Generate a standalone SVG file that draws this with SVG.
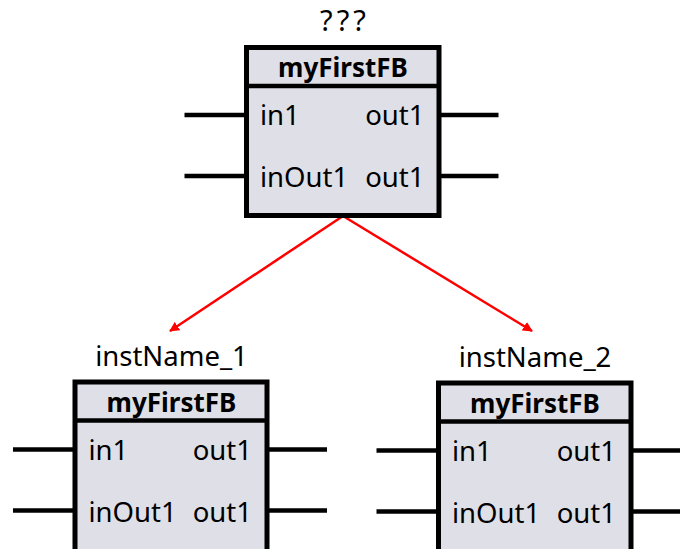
<svg xmlns="http://www.w3.org/2000/svg" width="680" height="549" viewBox="0 0 680 549">
<style>
.box{fill:#dfdfe7;stroke:#000;stroke-width:5}
.pin{stroke:#000;stroke-width:4.5;fill:none}
.div{stroke:#000;stroke-width:4.5}
.t{font-family:"Noto Sans","Open Sans",sans-serif;font-size:27.5px;fill:#000}
.q{letter-spacing:4px;font-size:29px}
.h{font-family:"Noto Sans","Open Sans",sans-serif;font-size:26px;font-weight:bold;fill:#000}
.conn{stroke:#ff0000;stroke-width:2.5;fill:none}
</style>
<defs>
<marker id="arr" viewBox="0 0 10 10" refX="9" refY="5" markerWidth="4" markerHeight="4" orient="auto" markerUnits="strokeWidth">
<path d="M0,0 L10,5 L0,10 z" fill="#ff0000"/>
</marker>
<g id="fb">
<line class="pin" x1="-62" y1="67.5" x2="0" y2="67.5"/>
<line class="pin" x1="-62" y1="128.5" x2="0" y2="128.5"/>
<line class="pin" x1="192" y1="67.5" x2="252" y2="67.5"/>
<line class="pin" x1="192" y1="128.5" x2="252" y2="128.5"/>
</g>
</defs>
<g id="connectors">
<line class="conn" x1="343" y1="216" x2="170" y2="331" marker-end="url(#arr)"/>
<line class="conn" x1="343" y1="216" x2="532" y2="331" marker-end="url(#arr)"/>
</g>
<g id="fb_top" transform="translate(246.5,47.5)">
<use href="#fb"/>
<rect class="box" x="0" y="0" width="192.5" height="168"/>
<line class="div" x1="0" y1="38.5" x2="192.5" y2="38.5"/>
<text class="t q" x="98.5" y="-17" text-anchor="middle">???</text>
<text class="h" x="96.5" y="29.5" text-anchor="middle">myFirstFB</text>
<text class="t" x="13.5" y="77.5">in1</text>
<text class="t" x="178" y="77.5" text-anchor="end">out1</text>
<text class="t" x="13.5" y="139.5">inOut1</text>
<text class="t" x="178" y="139.5" text-anchor="end">out1</text>
</g>
<g id="fb_inst1" transform="translate(75,382)">
<use href="#fb"/>
<rect class="box" x="0" y="0" width="192" height="175"/>
<line class="div" x1="0" y1="38.5" x2="192" y2="38.5"/>
<text class="t" x="96.5" y="-16" text-anchor="middle">instName_1</text>
<text class="h" x="96.5" y="29.5" text-anchor="middle">myFirstFB</text>
<text class="t" x="13.5" y="78">in1</text>
<text class="t" x="177" y="78" text-anchor="end">out1</text>
<text class="t" x="13.5" y="139.5">inOut1</text>
<text class="t" x="177" y="139.5" text-anchor="end">out1</text>
</g>
<g id="fb_inst2" transform="translate(438.5,383)">
<use href="#fb"/>
<rect class="box" x="0" y="0" width="192.5" height="175"/>
<line class="div" x1="0" y1="38.5" x2="192.5" y2="38.5"/>
<text class="t" x="96.5" y="-16" text-anchor="middle">instName_2</text>
<text class="h" x="96.5" y="29.5" text-anchor="middle">myFirstFB</text>
<text class="t" x="13.5" y="78">in1</text>
<text class="t" x="177.5" y="78" text-anchor="end">out1</text>
<text class="t" x="13.5" y="139.5">inOut1</text>
<text class="t" x="177.5" y="139.5" text-anchor="end">out1</text>
</g>
</svg>
